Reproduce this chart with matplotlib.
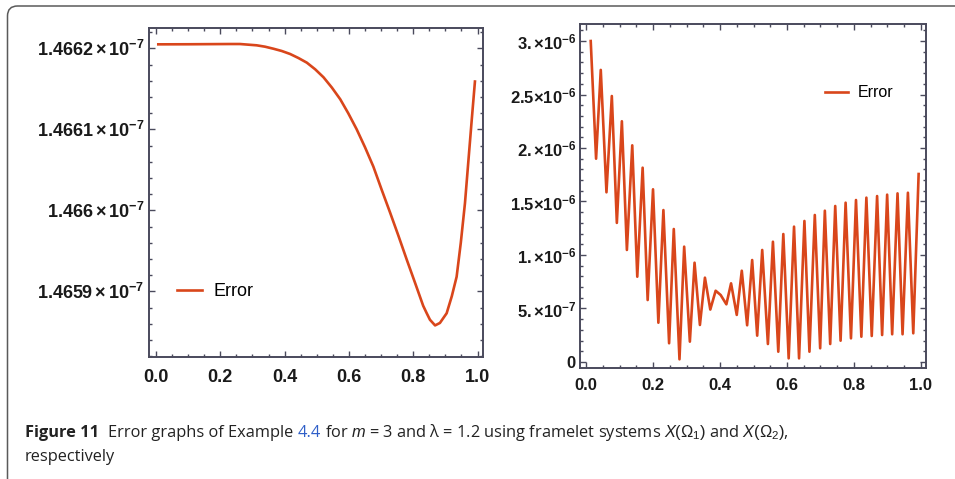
import numpy as np
import matplotlib
matplotlib.use("Agg")
import matplotlib.pyplot as plt
from matplotlib.patches import FancyBboxPatch
from matplotlib.ticker import FixedLocator, MultipleLocator

plt.rcParams['font.family'] = ['Liberation Sans', 'DejaVu Sans']
plt.rcParams['mathtext.fontset'] = 'custom'
plt.rcParams['mathtext.rm'] = 'Liberation Sans'
plt.rcParams['mathtext.it'] = 'Liberation Sans:italic'
plt.rcParams['mathtext.bf'] = 'Liberation Sans:bold'

# left panel: error with X(Omega_1), values in units of 1e-7
x1 = [0.007, 0.10, 0.23, 0.261, 0.313, 0.339, 0.365, 0.391, 0.417, 0.443,
      0.469, 0.495, 0.521, 0.547, 0.573, 0.598, 0.624, 0.650, 0.676, 0.702,
      0.728, 0.754, 0.780, 0.806, 0.831, 0.842, 0.852, 0.868, 0.883, 0.904,
      0.920, 0.935, 0.948, 0.961, 0.971, 0.982, 0.992]
y1 = [1.4662049, 1.4662050, 1.4662053, 1.4662053, 1.4662037, 1.4662020,
      1.4661995, 1.4661967, 1.4661930, 1.4661880, 1.4661823, 1.4661741,
      1.4661642, 1.4661515, 1.4661371, 1.4661198, 1.4661001, 1.4660779,
      1.4660540, 1.4660253, 1.4659973, 1.4659686, 1.4659390, 1.4659102,
      1.4658822, 1.4658730, 1.4658650, 1.4658580, 1.4658610, 1.4658730,
      1.4658940, 1.4659180, 1.4659600, 1.4660090, 1.4660580, 1.4661116,
      1.4661590]
y1_ticks = [1.4659, 1.4660, 1.4661, 1.4662]
y1_labels = [r'$\mathbf{1.4659\times10^{-7}}$', r'$\mathbf{1.466\times10^{-7}}$',
             r'$\mathbf{1.4661\times10^{-7}}$', r'$\mathbf{1.4662\times10^{-7}}$']

# right panel: error with X(Omega_2), values in units of 1e-6
x2 = [0.014, 0.030, 0.044, 0.061, 0.077, 0.092, 0.107, 0.122, 0.138, 0.153,
      0.169, 0.184, 0.200, 0.216, 0.231, 0.248, 0.262, 0.279, 0.293, 0.310,
      0.324, 0.340, 0.355, 0.371, 0.387, 0.402, 0.419, 0.433, 0.450, 0.465,
      0.481, 0.496, 0.511, 0.526, 0.543, 0.558, 0.574, 0.589, 0.605, 0.621,
      0.636, 0.652, 0.667, 0.683, 0.699, 0.713, 0.729, 0.744, 0.760, 0.775,
      0.791, 0.806, 0.822, 0.837, 0.853, 0.869, 0.884, 0.899, 0.914, 0.930,
      0.945, 0.961, 0.977, 0.993]
y2 = [3.00, 1.90, 2.73, 1.586, 2.486, 1.30, 2.25, 1.047, 2.025, 0.797,
      1.816, 0.579, 1.614, 0.367, 1.42, 0.175, 1.243, 0.025, 1.078, 0.19,
      0.928, 0.346, 0.788, 0.49, 0.666, 0.626, 0.539, 0.735, 0.44, 0.853,
      0.343, 0.953, 0.246, 1.047, 0.168, 1.124, 0.096, 1.196, 0.034, 1.265,
      0.034, 1.318, 0.096, 1.374, 0.128, 1.414, 0.168, 1.458, 0.199, 1.489,
      0.221, 1.514, 0.236, 1.536, 0.243, 1.551, 0.252, 1.564, 0.259, 1.576,
      0.259, 1.582, 0.268, 1.757]
y2_ticks = [0, 0.5, 1.0, 1.5, 2.0, 2.5, 3.0]
y2_labels = [r'$\mathbf{0}$', r'$\mathbf{5.{\times}10^{-7}}$', r'$\mathbf{1.{\times}10^{-6}}$',
             r'$\mathbf{1.5{\times}10^{-6}}$', r'$\mathbf{2.{\times}10^{-6}}$',
             r'$\mathbf{2.5{\times}10^{-6}}$', r'$\mathbf{3.{\times}10^{-6}}$']

x_ticks = [0.0, 0.2, 0.4, 0.6, 0.8, 1.0]
x_labels = ['0.0', '0.2', '0.4', '0.6', '0.8', '1.0']

LINE = '#D9461B'
FRAME = '#4a4a5c'
W, H = 955, 479

fig = plt.figure(figsize=(W / 100, H / 100), dpi=100)
ax1 = fig.add_axes([149.3 / W, 1 - 357 / H, 334 / W, 328.7 / H])
ax2 = fig.add_axes([580 / W, 1 - 368.3 / H, 346 / W, 344.3 / H])

ax1.plot(x1, np.array(y1) * 1e-7, color=LINE, lw=1.9, label='Error')
ax1.set_xlim(-0.021, 1.018)
ax1.set_ylim(1.465819e-7, 1.4662247e-7)
ax1.yaxis.set_major_locator(FixedLocator(np.array(y1_ticks) * 1e-7))
ax1.set_yticklabels(y1_labels)
ax1.yaxis.set_minor_locator(FixedLocator(np.arange(1.4658, 1.46623, 0.00002) * 1e-7))
ax1.tick_params(axis='y', pad=3.5)
ax1.tick_params(axis='x', pad=9)
ax1.tick_params(labelsize=13)
ax1.legend(loc='center left', bbox_to_anchor=(0.083, 0.198), frameon=False,
           borderaxespad=0, borderpad=0, handlelength=1.4, handletextpad=0.6,
           fontsize=13)

ax2.plot(x2, np.array(y2) * 1e-6, color=LINE, lw=1.9, label='Error')
ax2.set_xlim(-0.018, 1.015)
ax2.set_ylim(-0.059e-6, 3.159e-6)
ax2.yaxis.set_major_locator(FixedLocator(np.array(y2_ticks) * 1e-6))
ax2.set_yticklabels(y2_labels)
ax2.yaxis.set_minor_locator(MultipleLocator(1e-7))
ax2.tick_params(axis='y', pad=2.5)
ax2.tick_params(axis='x', pad=7)
ax2.tick_params(labelsize=12)
ax2.legend(loc='center left', bbox_to_anchor=(0.708, 0.80), frameon=False,
           borderaxespad=0, borderpad=0, handlelength=1.45, handletextpad=0.6,
           fontsize=11.5)

for ax in (ax1, ax2):
    ax.set_xticks(x_ticks)
    ax.set_xticklabels(x_labels, fontweight='bold')
    ax.xaxis.set_minor_locator(MultipleLocator(0.05))
    ax.tick_params(which='both', direction='in', top=True, right=True,
                   color=FRAME, width=1.0, labelcolor='#1a1a1a')
    ax.tick_params(which='major', length=4)
    ax.tick_params(which='minor', length=2)
    for s in ax.spines.values():
        s.set_color(FRAME)
        s.set_linewidth(1.4)

# rounded outer frame, running past the right and bottom edges
box = FancyBboxPatch((0.075, -0.3), 9.7, 5.03,
                     boxstyle='round,pad=0,rounding_size=0.1',
                     transform=fig.dpi_scale_trans, fill=False,
                     ec='#5a5a5a', lw=1.1, clip_on=False)
fig.add_artist(box)

# caption, drawn piece by piece so "4.4" can be blue
cap_font = ['Open Sans', 'DejaVu Sans']
cap_size = 11.8
renderer = fig.canvas.get_renderer()
t_a = fig.text(0, 0, 'n n', fontsize=cap_size, family=cap_font)
t_b = fig.text(0, 0, 'nn', fontsize=cap_size, family=cap_font)
space = t_a.get_window_extent(renderer).width - t_b.get_window_extent(renderer).width
t_a.remove()
t_b.remove()

pieces = [
    ('Figure 11', {'fontweight': 'bold'}, 0),
    ('Error graphs of Example', {}, 2),
    ('4.4', {'color': '#2f5fc8'}, 1),
    (r'for $m$ = 3 and λ = 1.2 using framelet systems $X(\Omega_1)$ and $X(\Omega_2)$,', {}, 1),
]
x_px = 25
for txt, kw, gap in pieces:
    x_px += gap * space
    t = fig.text(x_px / W, 1 - 437 / H, txt, fontsize=cap_size, va='baseline',
                 family=cap_font, color=kw.pop('color', '#222222'), **kw)
    x_px += t.get_window_extent(renderer).width
fig.text(25 / W, 1 - 461 / H, 'respectively', fontsize=cap_size, va='baseline',
         family=cap_font, color='#222222')

fig.savefig('out.png', dpi=100)
